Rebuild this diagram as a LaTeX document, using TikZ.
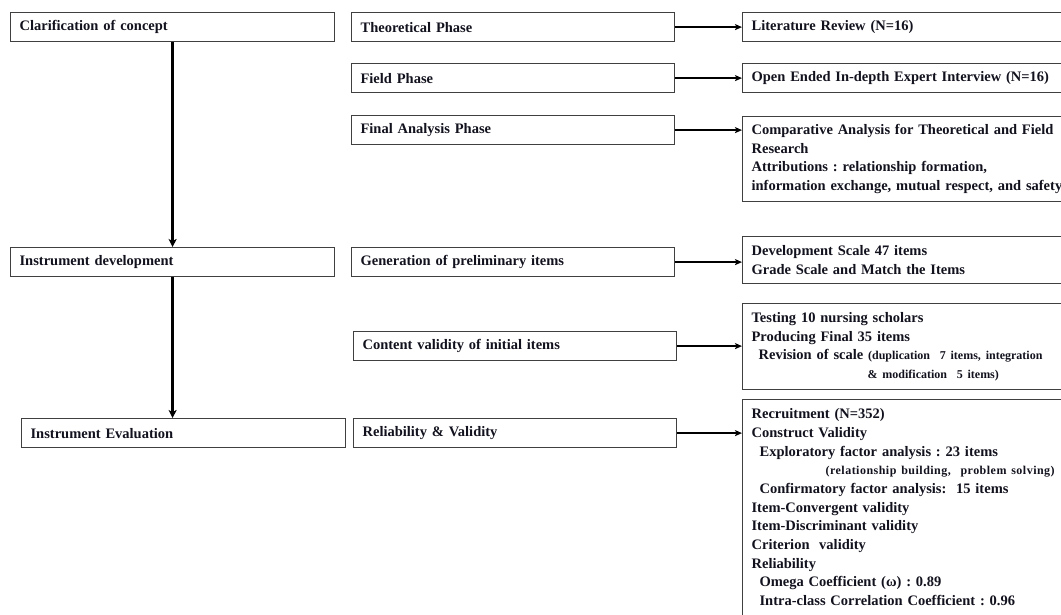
\documentclass[tikz,border=0pt]{standalone}
\usepackage{fontspec}
\setmainfont{Liberation Serif}
\usetikzlibrary{arrows.meta}
\definecolor{boxgray}{HTML}{404040}
\definecolor{txt}{HTML}{12121E}
\newcommand{\smtxt}{\fontsize{12}{18}\selectfont}
\begin{document}
\frenchspacing
\begin{tikzpicture}[x=1pt,y=-1pt,
  bx/.style={draw=boxgray, line width=1.2pt, rectangle, anchor=north west,
    inner xsep=9pt, inner ysep=0pt, align=left, text=txt,
    font=\fontsize{14.5}{18.7}\selectfont\bfseries\frenchspacing},
  lbox/.style={bx, minimum width=324pt, minimum height=29pt, text width=306pt},
  mbox/.style={bx, minimum width=323pt, minimum height=29pt, text width=305pt},
  rbox/.style={bx, minimum width=345pt, text width=327pt},
  harrow/.style={line width=1.5pt, -{Stealth[length=7pt,width=6pt,inset=1.5pt]}},
  varrow/.style={line width=2.5pt, -{Stealth[length=8pt,width=8pt,inset=2pt]}}]
\useasboundingbox (0,0) rectangle (1061,615);
\clip (0,0) rectangle (1061,615);
% left column
\node[lbox] (cc) at (10,12) {Clarification of concept};
\node[lbox] (id) at (10,247) {Instrument development};
\node[lbox] (ie) at (21,418) {Instrument Evaluation};
% middle column
\node[mbox] (tp) at (351,12) {Theoretical Phase};
\node[mbox] (fp) at (351,63) {Field Phase};
\node[mbox] (fa) at (351,115) {Final Analysis Phase};
\node[mbox] (gp) at (351,247) {Generation of preliminary items};
\node[mbox] (cv) at (353,331) {Content validity of initial items};
\node[mbox] (rv) at (353,418) {Reliability \& Validity};
% right column
\node[rbox, minimum height=29pt] (lr) at (742,12) {Literature Review (N=16)};
\node[rbox, minimum height=29pt] (oe) at (742,63) {Open Ended In-depth Expert Interview (N=16)};
\node[rbox, minimum height=85pt] (ca) at (742,116) {Comparative Analysis for Theoretical and Field\\Research\\Attributions : relationship formation,\\information exchange, mutual respect, and safety};
\node[rbox, minimum height=47pt] (ds) at (742,236) {Development Scale 47 items\\Grade Scale and Match the Items};
\node[rbox, minimum height=86pt] (ts) at (742,303) {Testing 10 nursing scholars\\Producing Final 35 items\\\hspace*{7pt}Revision of scale {\smtxt(duplication\ \ 7 items, integration}\\\hspace*{116pt}{\smtxt\&\ modification\ \ 5 items)}};
\node[rbox, inner ysep=9pt] (rc) at (742,399) {Recruitment (N=352)\\Construct Validity\\\hspace*{8pt}Exploratory factor analysis : 23 items\\\hspace*{74pt}{\smtxt\addfontfeature{LetterSpace=4}(relationship building,\ \ problem solving)}\\\hspace*{8pt}Confirmatory factor analysis:\ \ 15 items\\Item-Convergent validity\\Item-Discriminant validity\\Criterion\ \ validity\\Reliability\\\hspace*{8pt}Omega Coefficient (ω) : 0.89\\\hspace*{8pt}Intra-class Correlation Coefficient : 0.96\\\strut};
% vertical arrows
\draw[varrow] (cc.south) -- (id.north);
\draw[varrow] (id.south) -- (id.south |- ie.north);
% horizontal arrows
\draw[harrow] (tp.east) -- (tp.east -| lr.west);
\draw[harrow] (fp.east) -- (fp.east -| oe.west);
\draw[harrow] (fa.east) -- (fa.east -| ca.west);
\draw[harrow] (gp.east) -- (gp.east -| ds.west);
\draw[harrow] (cv.east) -- (cv.east -| ts.west);
\draw[harrow] (rv.east) -- (rv.east -| rc.west);
\end{tikzpicture}
\end{document}
